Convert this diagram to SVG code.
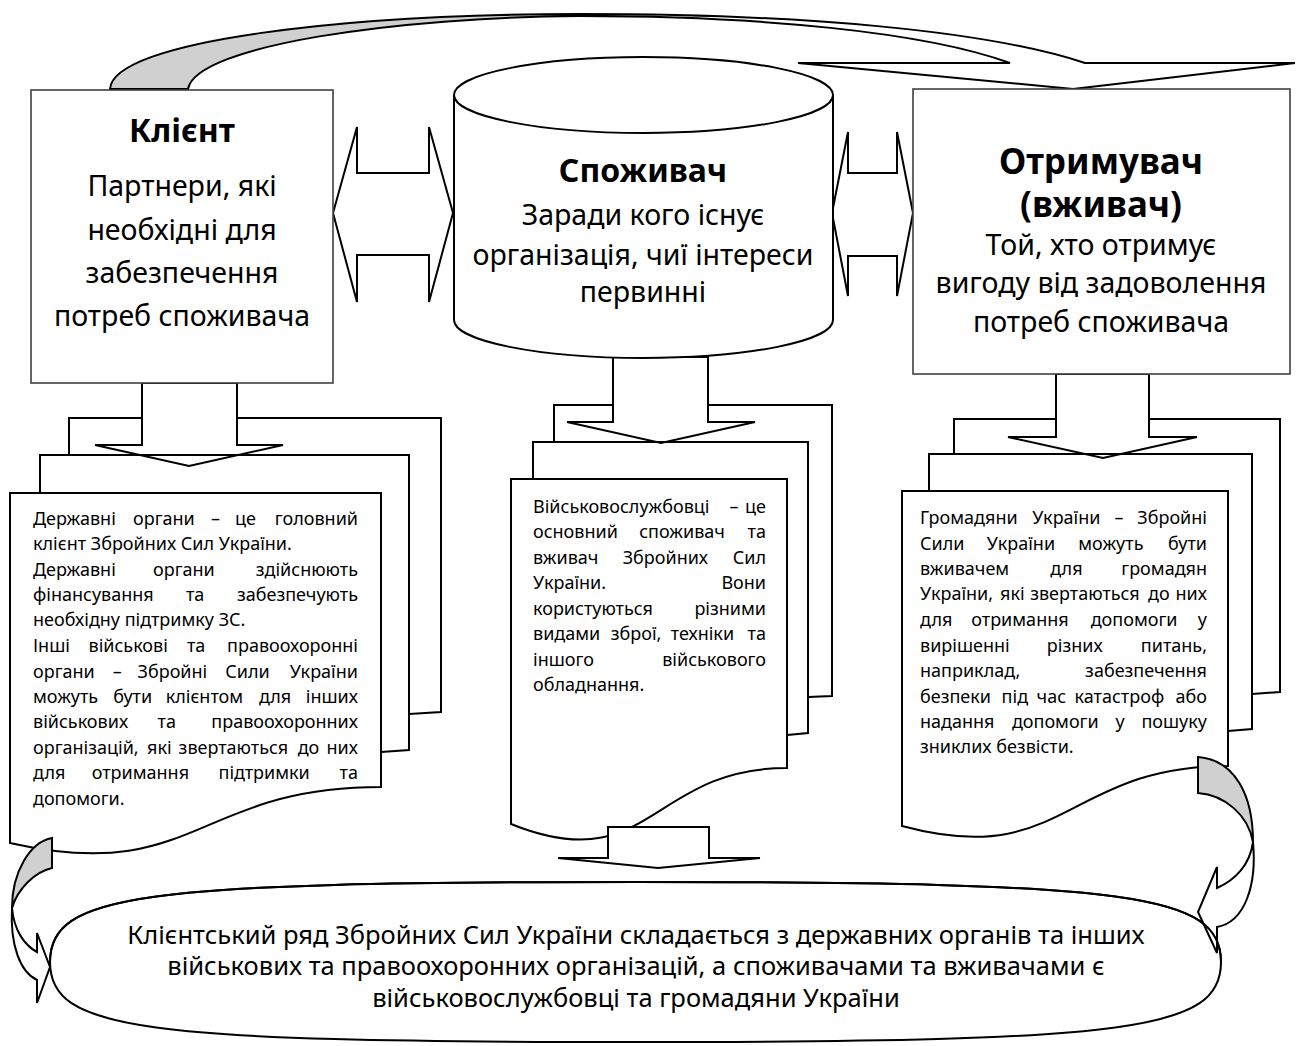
<svg xmlns="http://www.w3.org/2000/svg" width="1296" height="1046" viewBox="0 0 1296 1046">
<style>
.ln{fill:#fff;stroke:#000;stroke-width:2;stroke-linejoin:miter}
.no{fill:none;stroke:#000;stroke-width:2}
.bx{fill:#fff;stroke:#404040;stroke-width:1.6}
.gr{fill:#d0d0d0;stroke:#000;stroke-width:2}
.t{font-family:"Noto Sans","Open Sans","DejaVu Sans",sans-serif;fill:#000}
.s{font-size:18px}
.b{font-size:28.5px}
.h{font-weight:bold}
.c{text-anchor:middle}
.e{text-anchor:end}
</style>
<rect width="1296" height="1046" fill="#fff"/>

<g id="docs-left">
<path class="ln" d="M69,455 L69,418 L441,418 L441,712 L409,714"/>
<path class="ln" d="M40,493 L40,455 L409,455 L409,750 L381,752"/>
</g>
<g id="docs-center">
<path class="ln" d="M554,442 L554,405 L832,405 L832,696 L808,697"/>
<path class="ln" d="M533,479 L533,442 L808,442 L808,733 L787,735"/>
</g>
<g id="docs-right">
<path class="ln" d="M954,454 L954,419 L1280,419 L1280,692 L1252,694"/>
<path class="ln" d="M929,491 L929,454 L1252,454 L1252,729 L1228,731"/>
</g>

<g id="summary">
<path class="ln" d="M50,962 C50,894 138,882 636,882 C1134,882 1221,894 1221,962 C1221,1030 1134,1042 636,1042 C138,1042 50,1030 50,962 Z"/>
</g>

<g id="connectors">
<path class="gr" d="M110,89 C113,40 350,14 580,14 L580,16 C400,17 196,45 188,89 Z"/>
<path class="ln" d="M580,14 C800,14 985,30 1085,63 L1295,63 L1073,89 L798,63 L1010,63 C925,32 760,16 580,16 Z"/>
<path class="ln" d="M333,213 L357,127 L357,173 L429,173 L429,127 L453,213 L429,302 L429,255 L357,255 L357,302 Z"/>
<path class="ln" d="M832,213 L848,132 L848,173 L897,173 L897,132 L913,213 L897,296 L897,256 L848,256 L848,296 Z"/>
<path class="ln" d="M142,383 L237,383 L237,445 L283,445 L189,466 L95,445 L142,445 Z"/>
<path class="ln" d="M613,357 L708,357 L708,422 L755,422 L661,443 L567,422 L613,422 Z"/>
<path class="ln" d="M1056,374 L1149,374 L1149,437 L1197,437 L1103,458 L1008,437 L1056,437 Z"/>
<path class="no" d="M40,455 L409,455 M533,442 L808,442 M929,454 L1252,454"/>
</g>

<g id="doc-left">
<path class="ln" d="M10,493 L381,493 L381,787 C195,787 195,885 10,843 Z"/>
<g class="t s">
<text y="525"><tspan x="33">Державні</tspan><tspan x="133">органи</tspan><tspan x="211">–</tspan><tspan x="235">це</tspan></text>
<text class="e" x="358" y="525">головний</text>
<text x="33" y="550">клієнт Збройних Сил України.</text>
<text y="576"><tspan x="33">Державні</tspan><tspan x="153">органи</tspan></text>
<text class="e" x="358" y="576">здійснюють</text>
<text y="601"><tspan x="33">фінансування</tspan><tspan x="186">та</tspan></text>
<text class="e" x="358" y="601">забезпечують</text>
<text x="33" y="626">необхідну підтримку ЗС.</text>
<text y="652"><tspan x="33">Інші</tspan><tspan x="88.5">військові</tspan><tspan x="187">та</tspan></text>
<text class="e" x="358" y="652">правоохоронні</text>
<text y="678"><tspan x="33">органи</tspan><tspan x="112.7">–</tspan><tspan x="137.6">Збройні</tspan><tspan x="225.3">Сили</tspan></text>
<text class="e" x="358" y="678">України</text>
<text y="703"><tspan x="33">можуть</tspan><tspan x="113.2">бути</tspan><tspan x="165.7">клієнтом</tspan><tspan x="258.9">для</tspan></text>
<text class="e" x="358" y="703">інших</text>
<text y="728"><tspan x="33">військових</tspan><tspan x="157.6">та</tspan></text>
<text class="e" x="358" y="728">правоохоронних</text>
<text y="754"><tspan x="33">організацій,</tspan><tspan x="147.1">які</tspan><tspan x="178.6">звертаються</tspan><tspan x="297.7">до</tspan></text>
<text class="e" x="358" y="754">них</text>
<text y="779"><tspan x="33">для</tspan><tspan x="91.7">отримання</tspan><tspan x="218.5">підтримки</tspan></text>
<text class="e" x="358" y="779">та</text>
<text x="33" y="805">допомоги.</text>
</g>
</g>

<g id="doc-center">
<path class="ln" d="M511,479 L787,479 L787,768 C650,768 650,880 511,824 Z"/>
<g class="t s">
<text y="513"><tspan x="533">Військовослужбовці</tspan><tspan x="729.6">–</tspan></text>
<text class="e" x="766" y="513">це</text>
<text y="538"><tspan x="533">основний</tspan><tspan x="639.2">споживач</tspan></text>
<text class="e" x="766" y="538">та</text>
<text y="564"><tspan x="533">вживач</tspan><tspan x="622.7">Збройних</tspan></text>
<text class="e" x="766" y="564">Сил</text>
<text x="533" y="589">України.</text>
<text class="e" x="766" y="589">Вони</text>
<text x="533" y="615">користуються</text>
<text class="e" x="766" y="615">різними</text>
<text y="640"><tspan x="533">видами</tspan><tspan x="610.8">зброї,</tspan><tspan x="670.7">техніки</tspan></text>
<text class="e" x="766" y="640">та</text>
<text x="533" y="666">іншого</text>
<text class="e" x="766" y="666">військового</text>
<text x="533" y="691">обладнання.</text>
</g>
</g>

<g id="doc-right">
<path class="ln" d="M902,491 L1228,491 L1228,766 C1065,766 1065,870 902,826 Z"/>
<g class="t s">
<text y="524"><tspan x="920">Громадяни</tspan><tspan x="1032.2">України</tspan><tspan x="1114.5">–</tspan></text>
<text class="e" x="1207" y="524">Збройні</text>
<text y="550"><tspan x="920">Сили</tspan><tspan x="986.8">України</tspan><tspan x="1078.3">можуть</tspan></text>
<text class="e" x="1207" y="550">бути</text>
<text y="575"><tspan x="920">вживачем</tspan><tspan x="1050.2">для</tspan></text>
<text class="e" x="1207" y="575">громадян</text>
<text y="600"><tspan x="920">України,</tspan><tspan x="1000">які</tspan><tspan x="1030.2">звертаються</tspan><tspan x="1148">до</tspan></text>
<text class="e" x="1207" y="600">них</text>
<text y="626"><tspan x="920">для</tspan><tspan x="971.3">отримання</tspan><tspan x="1090.7">допомоги</tspan></text>
<text class="e" x="1207" y="626">у</text>
<text y="652"><tspan x="920">вирішенні</tspan><tspan x="1046.8">різних</tspan></text>
<text class="e" x="1207" y="652">питань,</text>
<text x="920" y="677">наприклад,</text>
<text class="e" x="1207" y="677">забезпечення</text>
<text y="703"><tspan x="920">безпеки</tspan><tspan x="1001.6">під</tspan><tspan x="1036.6">час</tspan><tspan x="1074.6">катастроф</tspan></text>
<text class="e" x="1207" y="703">або</text>
<text y="728"><tspan x="920">надання</tspan><tspan x="1011.9">допомоги</tspan><tspan x="1115.4">у</tspan></text>
<text class="e" x="1207" y="728">пошуку</text>
<text x="920" y="753">зниклих безвісти.</text>
</g>
</g>

<g id="connectors-bottom">
<path class="ln" d="M608,827 L709,827 L709,858 L760,858 L658,868 L558,858 L608,858 Z"/>
<path class="gr" d="M52,838 L52,868 C35,872 18,888 12,908 C12,872 30,842 52,838 Z"/>
<path class="ln" d="M12,908 C14,930 24,945 37,952 L37,933 L50,967 L37,1003 L37,980 C20,972 10,945 12,908 Z"/>
<path class="gr" d="M1198,757 L1198,793 C1225,795 1248,815 1253,842 C1253,795 1235,760 1198,757 Z"/>
<path class="ln" d="M1253,842 C1250,865 1235,880 1217,888 L1217,867 L1198,912 L1217,953 L1217,927 C1245,922 1257,885 1253,842 Z"/>
</g>
<path class="no" d="M50,962 C50,894 138,882 636,882 C1134,882 1221,894 1221,962"/>

<g id="client">
<rect class="bx" x="31" y="90" width="302" height="293"/>
<text class="t h c" x="182" y="142" font-size="32">Клієнт</text>
<g class="t b c">
<text x="182" y="196">Партнери, які</text>
<text x="182" y="240">необхідні для</text>
<text x="182" y="283">забезпечення</text>
<text x="182" y="326">потреб споживача</text>
</g>
</g>

<g id="consumer">
<path class="ln" d="M454,95 L454,320 A189.5,38 0 0 0 833,320 L833,95"/>
<ellipse class="ln" cx="643.5" cy="95" rx="189.5" ry="38"/>
<text class="t h c" x="643" y="182" font-size="32">Споживач</text>
<g class="t b c">
<text x="643" y="225">Заради кого існує</text>
<text x="643" y="265">організація, чиї інтереси</text>
<text x="643" y="302">первинні</text>
</g>
</g>

<g id="recipient">
<rect class="bx" x="913" y="89" width="377" height="285"/>
<text class="t h c" x="1101" y="174" font-size="35">Отримувач</text>
<text class="t h c" x="1101" y="217" font-size="35">(вживач)</text>
<g class="t b c">
<text x="1101" y="255">Той, хто отримує</text>
<text x="1101" y="293">вигоду від задоволення</text>
<text x="1101" y="332">потреб споживача</text>
</g>
</g>

<g id="summary-text" class="t c" font-size="25.5">
<text x="636" y="944">Клієнтський ряд Збройних Сил України складається з державних органів та інших</text>
<text x="636" y="975">військових та правоохоронних організацій, а споживачами та вживачами є</text>
<text x="636" y="1007">військовослужбовці та громадяни України</text>
</g>
</svg>
